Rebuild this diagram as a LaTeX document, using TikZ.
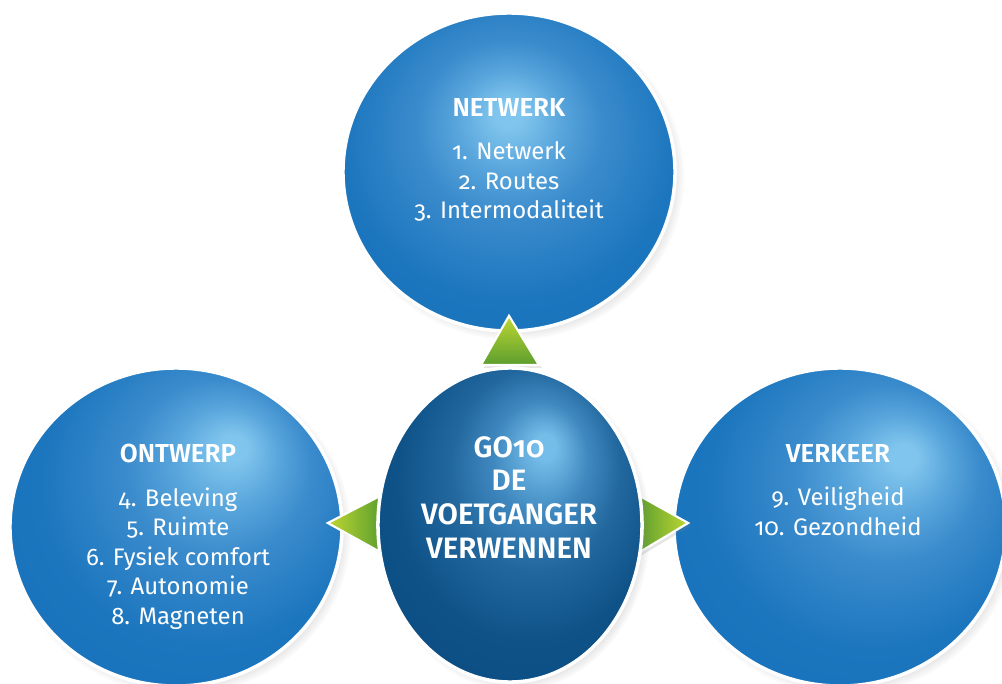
\documentclass[tikz,border=0pt]{standalone}
\usepackage{fontspec}
\setmainfont{Fira Sans}[Numbers=OldStyle, BoldFont=Fira Sans SemiBold]
\usetikzlibrary{shapes.geometric,shadows,calc}

\definecolor{ballhi}{HTML}{80C5ED}
\definecolor{ballglow}{HTML}{58A5DC}
\definecolor{ballmid}{HTML}{3A8BCC}
\definecolor{ballbase}{HTML}{1C76BE}
\definecolor{ballrim}{HTML}{1570BA}
\definecolor{corehi}{HTML}{74BDE9}
\definecolor{coreglow}{HTML}{3F88BF}
\definecolor{coremid}{HTML}{22689F}
\definecolor{corebase}{HTML}{0E5288}
\definecolor{corerim}{HTML}{0A4A7D}
\definecolor{leafhi}{HTML}{BED733}
\definecolor{leafdark}{HTML}{5C9E2E}

% light spot of each ball
\pgfdeclareradialshading{ballnetwerk}{\pgfpoint{0bp}{9.5bp}}{color(0bp)=(ballhi); color(2bp)=(ballhi); color(8bp)=(ballglow); color(14bp)=(ballmid); color(25bp)=(ballbase); color(40bp)=(ballrim); color(50bp)=(ballrim)}
\pgfdeclareradialshading{ballontwerp}{\pgfpoint{9bp}{13bp}}{color(0bp)=(ballhi); color(2bp)=(ballhi); color(8bp)=(ballglow); color(14bp)=(ballmid); color(25bp)=(ballbase); color(40bp)=(ballrim); color(50bp)=(ballrim)}
\pgfdeclareradialshading{ballverkeer}{\pgfpoint{10bp}{11.5bp}}{color(0bp)=(ballhi); color(2bp)=(ballhi); color(8bp)=(ballglow); color(14bp)=(ballmid); color(25bp)=(ballbase); color(40bp)=(ballrim); color(50bp)=(ballrim)}
\pgfdeclareradialshading{ballcore}{\pgfpoint{7bp}{13bp}}{color(0bp)=(corehi); color(2bp)=(corehi); color(9bp)=(coreglow); color(16bp)=(coremid); color(25bp)=(corebase); color(40bp)=(corerim); color(50bp)=(corerim)}

\begin{document}
\begin{tikzpicture}[x=0.025cm, y=-0.025cm]

% Styles
\tikzstyle{ball} = [ellipse, draw=white, line width=2.5pt, shade, minimum width=8.3cm, minimum height=7.95cm, inner sep=0pt, circular drop shadow={shadow scale=1.03, shadow xshift=3pt, shadow yshift=-3pt, opacity=0.45}]
\tikzstyle{core} = [ball, minimum width=6.6cm, minimum height=7.85cm]
\tikzstyle{tip} = [draw=white, line width=1.5pt, line join=miter, drop shadow={shadow xshift=2pt, shadow yshift=-2pt, opacity=0.2}]
\tikzstyle{itemtext} = [text=white, align=center, inner sep=0pt, anchor=north, font=\fontsize{17}{21}\selectfont]
\tikzstyle{coretext} = [text=white, align=center, inner sep=0pt, anchor=north, font=\bfseries\fontsize{21}{24}\selectfont]

\useasboundingbox (0,0) rectangle (1002,684);
\clip (0,0) rectangle (1002,684);

% Balls
\node [ball, shading=ballnetwerk] (netwerk) at (509,172) {};
\node [ball, shading=ballontwerp] (ontwerp) at (176,527) {};
\node [ball, shading=ballverkeer] (verkeer) at (840,527) {};

% Texts
\node [itemtext] (netwerk-txt) at (509,98) {{\bfseries\fontsize{18.5}{21}\selectfont NETWERK}\\[10pt] 1. Netwerk\\ 2. Routes\\ 3. Intermodaliteit};
\node [itemtext] (ontwerp-txt) at (178,444) {{\bfseries\fontsize{18.5}{21}\selectfont ONTWERP}\\[10pt] 4. Beleving\\ 5. Ruimte\\ 6. Fysiek comfort\\ 7. Autonomie\\ 8. Magneten};
\node [itemtext] (verkeer-txt) at (838,444) {{\bfseries\fontsize{18.5}{21}\selectfont VERKEER}\\[10pt] 9. Veiligheid\\ 10. Gezondheid};

% Tips
\coordinate (go10-pos) at (510,525);
\shade [tip, top color=leafhi, bottom color=leafdark] ($(go10-pos)+(-29,-160)$) -- ($(netwerk.south)+(0,-17)$) -- ($(go10-pos)+(29,-160)$) -- cycle;
\shade [tip, left color=leafhi, right color=leafdark] ($(go10-pos)+(-128,-30)$) -- ($(ontwerp.east)+(-16,-4)$) -- ($(go10-pos)+(-128,28)$) -- cycle;
\shade [tip, left color=leafdark, right color=leafhi] ($(go10-pos)+(128,-30)$) -- ($(verkeer.west)+(16,-4)$) -- ($(go10-pos)+(128,28)$) -- cycle;

% Core
\node [core, shading=ballcore] (go10) at (go10-pos) {};
\node [coretext] (go10-txt) at (509,436) {GO10\\ DE\\ VOETGANGER\\ VERWENNEN};

\end{tikzpicture}
\end{document}
